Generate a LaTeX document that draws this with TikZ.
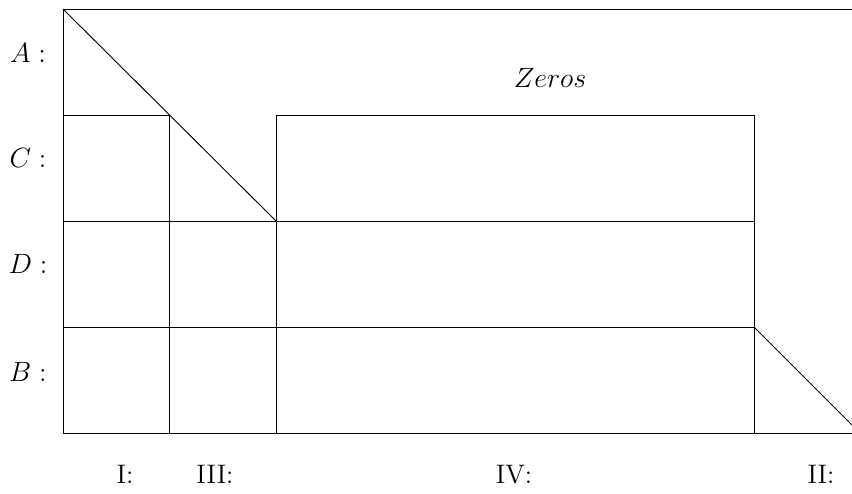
\documentclass[tikz,border=0pt]{standalone}
\begin{document}
\begin{tikzpicture}[x=0.43pt,y=-0.43pt,line width=0.4pt,
  lbl/.style={anchor=base,inner sep=0pt,font=\fontsize{11.5pt}{14pt}\selectfont}]
\useasboundingbox (0,0) rectangle (852,494);
\begin{scope}
\clip (0,0) rectangle (852,494);
% outer lines
\draw (63,433) -- (63,9) -- (900,9);
\draw (63,433) -- (900,433);
% main diagonal
\draw (63,9) -- (276,221);
% horizontals
\draw (63,115) -- (169,115);
\draw (63,221) -- (754,221);
\draw (63,327) -- (754,327);
% verticals
\draw (169,115) -- (169,433);
\draw (276,221) -- (276,115) -- (754,115) -- (754,433);
\draw (276,221) -- (276,433);
% lower right diagonal
\draw (754,327) -- (860,433);
\end{scope}
% row labels
\node[lbl] (la) at (28,63) {$A:$};
\node[lbl] (lc) at (28,168) {$C:$};
\node[lbl] (ld) at (28,274) {$D:$};
\node[lbl] (lb) at (28,382) {$B:$};
% column labels
\node[lbl] (c1) at (125,484) {I:};
\node[lbl] (c3) at (215,484) {III:};
\node[lbl] (c4) at (514,484) {IV:};
\node[lbl] (c2) at (821,484) {II:};
\node[lbl] (z) at (550,88) {$Zeros$};
\end{tikzpicture}
\end{document}
